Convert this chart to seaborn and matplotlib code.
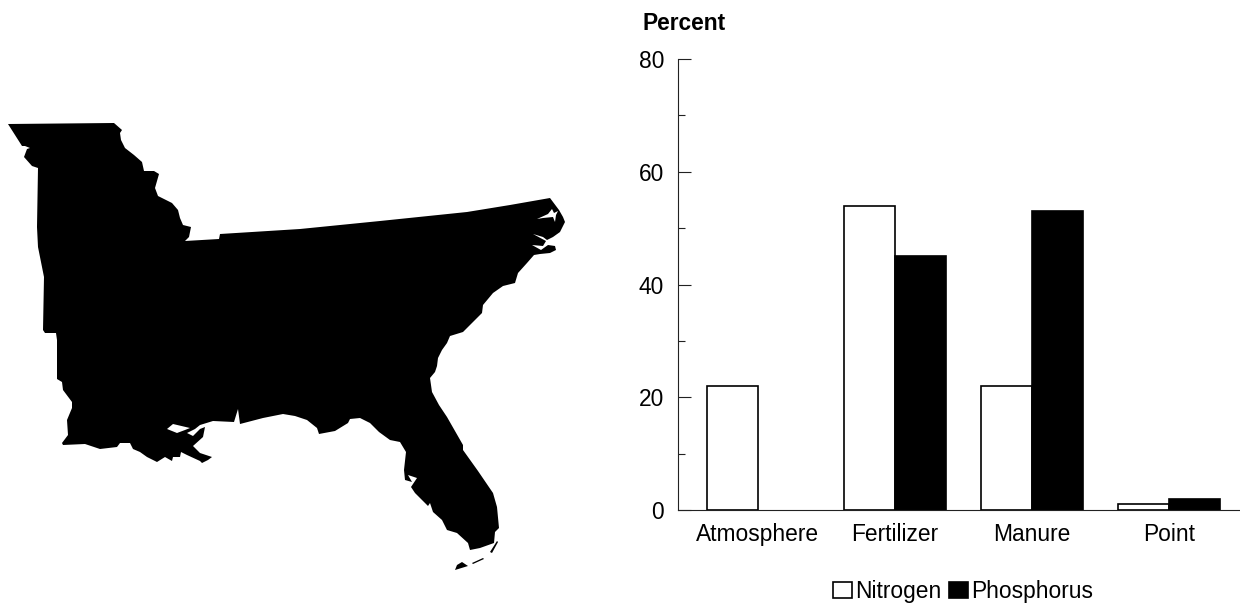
import matplotlib
matplotlib.use("Agg")
import matplotlib.pyplot as plt
import pandas as pd
import seaborn as sns
from matplotlib.ticker import MultipleLocator

categories = ["Atmosphere", "Fertilizer", "Manure", "Point"]
nitrogen = [22, 54, 22, 1]
phosphorus = [0, 45, 53, 2]

region_outline = [
    (8,124),(114,123),(122,130),(120,133),(121,140),(125,148),(134,155),(142,162),(144,171),(154,171),(159,174),(155,188),
    (158,196),(172,203),(178,210),(180,218),(183,225),(191,227),(189,237),(185,241),(219,239),(220,234),(300,229),
    (380,221),(467,212),(510,205),(550,198),(559,210),(563,217),
    (565,222),(560,232),(553,237),(547,240),(543,237),(533,234),(546,241),(543,246),(532,245),(541,250),
    (548,245),(555,246),(556,250),(550,253),(540,254),(534,255),(527,263),(518,273),(515,283),(503,286),(493,293),(483,305),
    (482,313),(470,325),(463,332),(450,336),(447,343),(442,350),(438,358),(437,366),(435,372),(430,378),(432,392),(439,405),(447,417),
    (463,445),(463,450),(478,471),(493,493),(497,507),(499,528),(495,532),(494,543),(480,548),(470,550),(468,543),
    (457,533),(447,530),(442,520),(433,512),(430,503),(428,506),(415,493),(411,487),(417,478),(408,475),
    (412,482),(405,480),(404,470),(406,452),(400,442),(390,440),(379,432),(370,423),(360,418),(350,419),
    (348,423),(335,431),(319,434),(317,428),(307,420),(295,416),(283,414),(263,418),(240,424),(238,409),(234,422),
    (213,421),(200,425),(195,429),(187,433),(193,436),(200,429),(205,427),(203,437),(193,446),(200,453),
    (212,457),(208,460),(202,463),(200,461),(187,455),(181,452),(180,457),(173,457),(172,461),(165,457),
    (157,462),(147,457),(140,452),(133,449),(130,443),(120,443),(117,447),(100,449),(85,444),(63,445),
    (62,443),(68,435),(67,420),(72,408),(72,402),(63,390),(62,382),(57,379),(57,340),(56,333),
    (45,333),(43,330),(44,277),(38,247),(37,227),(38,168),(32,166),(24,157),(27,149),(30,148),
    (25,146),(22,146),
]
lake_outline = [(167,429),(173,424),(190,428),(185,430),(177,433)]
sound_outline = [(537,219),(548,214),(552,209),(554,213),(558,211),(556,215),(555,222),(553,217),(543,218)]
key_outlines = [
    [(455,570),(457,565),(462,562),(468,566)],
    [(472,563),(483,558),(484,559),(473,564)],
    [(490,552),(497,541),(498,542),(492,553)],
]

sns.set_theme(style="ticks")
plt.rcParams["font.family"] = ["Liberation Sans", "DejaVu Sans"]
plt.rcParams["font.size"] = 16.4

fig = plt.figure(figsize=(12.4, 6.03), dpi=100, facecolor="white")

map_ax = fig.add_axes([0, 0, 1, 1])
map_ax.set_xlim(0, 1240)
map_ax.set_ylim(603, 0)
map_ax.axis("off")
map_ax.fill(*zip(*region_outline), color="black", lw=0)
map_ax.fill(*zip(*lake_outline), color="white", lw=0)
map_ax.fill(*zip(*sound_outline), color="white", lw=0)
for outline in key_outlines:
    map_ax.fill(*zip(*outline), color="black", lw=0)

W, H = 1240, 603
left, right, top, bottom = 678, 1240, 59, 510
ax = fig.add_axes([left / W, 1 - bottom / H, (right - left) / W, (bottom - top) / H])
ax.patch.set_alpha(0)

df = pd.DataFrame({
    "Source": categories * 2,
    "Percent": nitrogen + phosphorus,
    "Nutrient": ["Nitrogen"] * len(categories) + ["Phosphorus"] * len(categories),
})
sns.barplot(
    data=df, x="Source", y="Percent", hue="Nutrient", ax=ax, width=0.75, gap=0,
    palette={"Nitrogen": "white", "Phosphorus": "black"},
    edgecolor="black", linewidth=1.2, saturation=1,
)
for patch in ax.patches:
    if patch.get_height() == 0:
        patch.set_linewidth(0)
ax.set_xlim(-80 / 137, (right - 758) / 137)
ax.set_ylim(0, 80)
ax.set_xlabel("")
ax.set_ylabel("")
sns.despine(ax=ax)
for side in ("left", "bottom"):
    ax.spines[side].set_linewidth(0.8)
    ax.spines[side].set_color("#222222")
ax.yaxis.set_major_locator(MultipleLocator(20))
ax.yaxis.set_minor_locator(MultipleLocator(10))
ax.tick_params(axis="y", which="major", direction="in", length=9.5, width=0.8, color="#222222",
               pad=10, labelsize=16.4, labelcolor="black")
ax.tick_params(axis="y", which="minor", direction="in", length=5, width=0.8, color="#222222")
ax.tick_params(axis="x", which="both", length=0, pad=9.5, labelsize=16.4, labelcolor="black")

fig.text(643 / W, 1 - 30 / H, "Percent", fontweight="bold", fontsize=16.4, color="black", ha="left", va="baseline")

sns.move_legend(
    ax, "lower left", bbox_to_anchor=(833 / W, 1 - 603 / H), bbox_transform=fig.transFigure,
    ncol=2, frameon=False, title=None, fontsize=16.4, handlelength=0.84, handleheight=0.75,
    handletextpad=0.15, columnspacing=0.3, borderpad=0, borderaxespad=0, labelcolor="black",
)

fig.savefig("out.png", dpi=100)
